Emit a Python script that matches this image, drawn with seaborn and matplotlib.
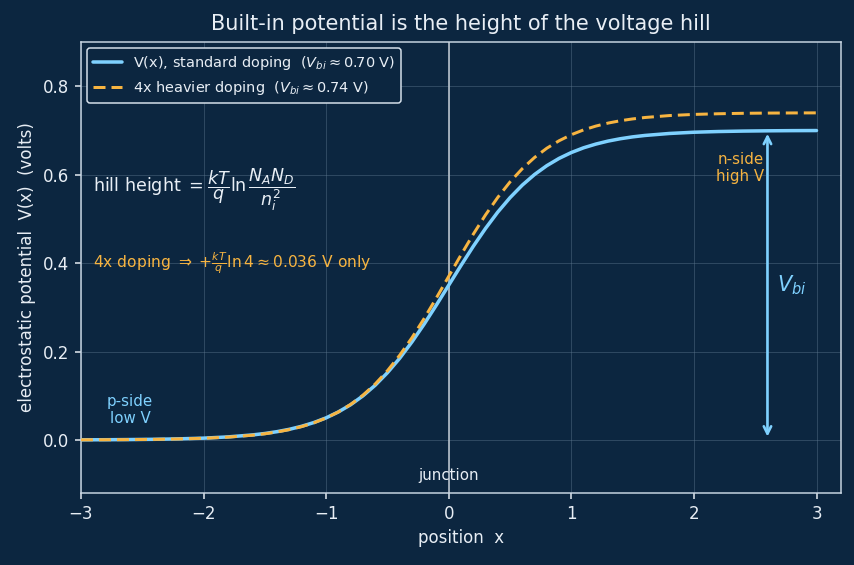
import numpy as np
import pandas as pd
import matplotlib
matplotlib.use("Agg")
import matplotlib.pyplot as plt
import seaborn as sns
from matplotlib.lines import Line2D

# position samples
x_pos = [-3.0, -2.8, -2.6, -2.4, -2.2, -2.0, -1.8,
         -1.6, -1.5, -1.4, -1.3, -1.2, -1.1, -1.0, -0.9, -0.8, -0.7, -0.6, -0.5,
         -0.4, -0.3, -0.2, -0.1, 0.0, 0.1, 0.2, 0.3, 0.4, 0.5, 0.6, 0.7, 0.8,
         0.9, 1.0, 1.1, 1.2, 1.3, 1.4, 1.5, 1.6,
         1.8, 2.0, 2.2, 2.4, 2.6, 2.8, 3.0]

v_standard = [0.0003, 0.0005, 0.0009, 0.0015, 0.0025, 0.0041, 0.0069,
              0.0114, 0.0146, 0.0188, 0.0241, 0.0309, 0.0394, 0.0500, 0.0634, 0.0797, 0.0997, 0.1237, 0.1521,
              0.1847, 0.2217, 0.2622, 0.3054, 0.3500, 0.3946, 0.4378, 0.4783, 0.5153, 0.5479, 0.5763, 0.6003, 0.6203,
              0.6367, 0.6500, 0.6607, 0.6691, 0.6759, 0.6812, 0.6854, 0.6886,
              0.6931, 0.6959, 0.6975, 0.6985, 0.6991, 0.6995, 0.6997]

v_heavy = [0.0003, 0.0005, 0.0008, 0.0013, 0.0023, 0.0038, 0.0064,
           0.0108, 0.0140, 0.0181, 0.0234, 0.0302, 0.0388, 0.0497, 0.0634, 0.0804, 0.1012, 0.1265, 0.1565,
           0.1915, 0.2311, 0.2748, 0.3216, 0.3700, 0.4184, 0.4652, 0.5089, 0.5485, 0.5835, 0.6135, 0.6388, 0.6597,
           0.6766, 0.6903, 0.7012, 0.7098, 0.7166, 0.7219, 0.7260, 0.7292,
           0.7336, 0.7362, 0.7377, 0.7387, 0.7392, 0.7395, 0.7397]

vbi_standard = 0.70
labels = ["V(x), standard doping  ($V_{bi}\\approx 0.70$ V)",
          "4x heavier doping  ($V_{bi}\\approx 0.74$ V)"]

BG = "#0c2640"
FG = "#e8eef5"
BLUE = "#7fd1ff"
ORANGE = "#f7b441"

sns.set_theme(style="darkgrid")
plt.rcParams.update({
    "figure.facecolor": BG, "axes.facecolor": BG, "axes.edgecolor": "#c9d6e3",
    "axes.labelcolor": FG, "xtick.color": FG, "ytick.color": FG,
    "text.color": FG, "grid.color": "#5f7890", "grid.alpha": 0.5,
    "grid.linewidth": 0.5,
})
plt.rcParams["font.family"] = ["DejaVu Sans"]

df = pd.DataFrame({
    "x": x_pos * 2,
    "V": v_standard + v_heavy,
    "series": [labels[0]] * len(x_pos) + [labels[1]] * len(x_pos),
})

DPI = 120
fig = plt.figure(figsize=(854 / DPI, 565 / DPI), dpi=DPI)
ax = fig.add_axes([0.0948, 0.1274, 0.89, 0.7983])

ax.axvline(0, color="#b8c2cc", lw=1.0, zorder=1)

sns.lineplot(data=df, x="x", y="V", hue="series", style="series",
             palette=[BLUE, ORANGE], dashes=[(None, None), (4, 2)],
             ax=ax, legend=False, zorder=3)
lines = ax.get_lines()
lines[1].set_linewidth(2.1)
lines[2].set_linewidth(1.8)

ax.set_xlim(-3, 3.2)
ax.set_ylim(-0.12, 0.9)
ax.set_xticks([-3, -2, -1, 0, 1, 2, 3])
ax.set_yticks([0.0, 0.2, 0.4, 0.6, 0.8])
ax.tick_params(axis="both", labelsize=10, length=3.5, width=0.9, bottom=True, left=True)
for s in ax.spines.values():
    s.set_visible(True)
    s.set_color("#c9d6e3")
    s.set_linewidth(0.9)

ax.set_xlabel("position  x", fontsize=10, color=FG)
ax.set_ylabel("electrostatic potential  V(x)  (volts)", fontsize=10, color=FG)
ax.set_title("Built-in potential is the height of the voltage hill", fontsize=12.5, color=FG, pad=7)

handles = [Line2D([], [], color=BLUE, lw=2.1),
           Line2D([], [], color=ORANGE, lw=1.8, ls=(0, (4, 2)))]
leg = ax.legend(handles, labels, loc="upper left", fontsize=8.7,
                facecolor=BG, edgecolor="#d8e2ec", framealpha=1.0, labelcolor=FG,
                borderaxespad=0.4)
leg.get_frame().set_linewidth(0.9)

ax.annotate("", xy=(2.6, 0.0), xytext=(2.6, vbi_standard),
            arrowprops=dict(arrowstyle="<->", color=BLUE, lw=1.6, mutation_scale=11),
            zorder=4)
ax.text(2.68, 0.35, "$V_{bi}$", color=BLUE, fontsize=12.5, ha="left", va="center")
ax.text(2.38, 0.615, "n-side\nhigh V", color=ORANGE, fontsize=9, ha="center", va="center")
ax.text(-2.6, 0.068, "p-side\nlow V", color=BLUE, fontsize=9, ha="center", va="center")
ax.text(0.0, -0.08, "junction", color=FG, fontsize=9, ha="center", va="center")
ax.text(-2.9, 0.565, "hill height $= \\dfrac{kT}{q}\\ln\\dfrac{N_AN_D}{n_i^2}$",
        color=FG, fontsize=10.5, ha="left", va="center")
ax.text(-2.9, 0.40, "4x doping $\\Rightarrow$ $+\\frac{kT}{q}\\ln 4 \\approx 0.036$ V only",
        color=ORANGE, fontsize=9.3, ha="left", va="center")

fig.savefig("out.png", dpi=DPI, facecolor=BG)
